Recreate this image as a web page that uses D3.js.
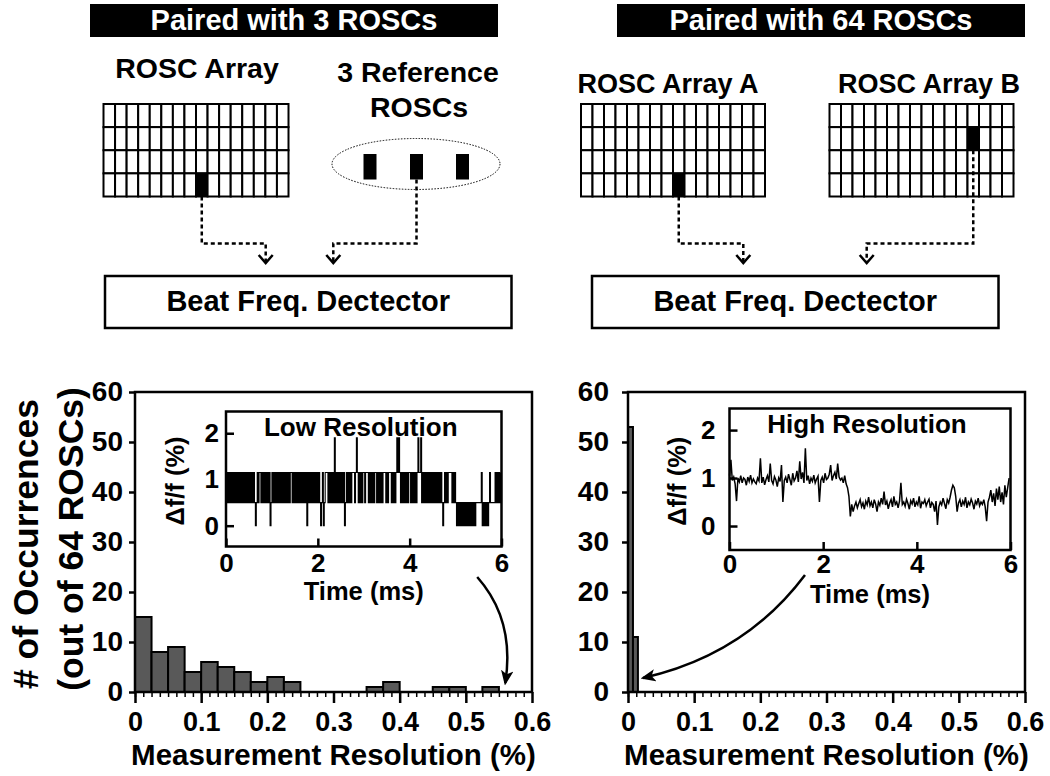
<!DOCTYPE html>
<html lang="en">
<head>
<meta charset="UTF-8">
<title>ROSC measurement resolution</title>
<script src="https://d3js.org/d3.v7.min.js"></script>
<style>
  body { margin: 0; background: #fff; }
  svg { display: block; font-family: "Liberation Sans", Arial, Helvetica, sans-serif; font-weight: bold; }
  .frame { fill: none; stroke: #000; stroke-width: 2.5px; }
  .bar { fill: #595959; stroke: #000; stroke-width: 2px; }
  .wire { fill: none; stroke: #000; stroke-width: 2.5px; stroke-dasharray: 4 3; }
  .chev { fill: none; stroke: #000; stroke-width: 2.5px; }
  .arrow { fill: none; stroke: #000; stroke-width: 2.5px; }
</style>
</head>
<body>
<svg width="1050" height="776"></svg>
<script>
// ---------- data ----------
const yTicks = [0, 10, 20, 30, 40, 50, 60];
const xTicks = [0, 0.1, 0.2, 0.3, 0.4, 0.5, 0.6];
const xTickLabels = ["0", "0.1", "0.2", "0.3", "0.4", "0.5", "0.6"];

// histogram, paired with 3 ROSCs
const leftBinWidth = 0.025;
const leftBinX0 = [0, 0.025, 0.05, 0.075, 0.1, 0.125, 0.15, 0.175, 0.2, 0.225, 0.35, 0.375, 0.45, 0.475, 0.525];
const leftCounts = [15, 8, 9, 4, 6, 5, 4, 2, 3, 2, 1, 2, 1, 1, 1];

// histogram, paired with 64 ROSCs
const rightBinWidth = 0.0075;
const rightBinX0 = [0, 0.0075];
const rightCounts = [53, 11];

const insetTimeTicks = [0, 2, 4, 6];
const insetYTicks = [0, 1, 2];

// low resolution trace: quantised levels, one code per 0.02 ms sample (one string per ms)
const lowResStep = 0.02;
const lowResLevels = [0, 0.5, 1.15, 1.9];
const lowResCodes = [
  "21212121212121212121212121212121012122121212121201",
  "21212121212121212121221212121212121212021212121212",
  "12101201222121212131212121212012121212221232121212",
  "21222121212122121212122212122212121232321212121212",
  "21212121232231212121212121212121212101212122221212",
  "10101010101010101010101111112010101012111112121212"
].join("");

// high resolution trace, one value per 0.03 ms
const highResStep = 0.03;
const highRes = [
  1.05, 1.38, 0.95, 1.02, 0.88, 0.52, 1.0, 0.92, 1.05, 0.9,
  1.0, 0.97, 0.85, 1.02, 0.93, 1.06, 0.9, 0.98, 0.92, 0.88,
  1.0, 0.94, 1.41, 0.9, 1.02, 0.86, 0.97, 1.05, 0.92, 1.3,
  0.95, 0.88, 1.03, 0.96, 0.82, 1.0, 0.93, 1.27, 0.5, 0.95,
  1.02, 0.9, 1.08, 0.97, 0.85, 1.1, 0.94, 1.0, 1.15, 0.92,
  1.35, 0.98, 1.12, 0.9, 1.62, 0.95, 1.05, 0.88, 1.0, 0.93,
  1.06, 0.9, 0.98, 1.04, 0.5, 0.95, 1.02, 0.9, 1.1, 0.97,
  1.0, 1.08, 1.27, 0.95, 1.05, 1.12, 0.98, 1.3, 1.02, 0.96,
  1.0, 0.9, 1.05, 0.88, 0.8, 0.62, 0.2, 0.45, 0.3, 0.42,
  0.5, 0.38, 0.47, 0.55, 0.4, 0.48, 0.35, 0.52, 0.44, 0.6,
  0.42, 0.5, 0.38, 0.55, 0.46, 0.3, 0.5, 0.43, 0.58, 0.45,
  0.72, 0.44, 0.52, 0.36, 0.48, 0.55, 0.4, 0.62, 0.45, 0.5,
  0.38, 0.52, 0.9, 0.45, 0.5, 0.41, 0.56, 0.47, 0.35, 0.53,
  0.46, 0.58, 0.4, 0.5, 0.44, 0.62, 0.37, 0.5, 0.47, 0.55,
  0.42, 0.5, 0.56, 0.38, 0.49, 0.45, 0.3, 0.52, 0.02, 0.4,
  0.5, 0.44, 0.58, 0.47, 0.36, 0.55, 0.48, 0.6, 0.75, 0.85,
  0.8, 0.62, 0.3, 0.48, 0.55, 0.4, 0.52, 0.45, 0.6, 0.38,
  0.5, 0.44, 0.56, 0.48, 0.35, 0.52, 0.46, 0.58, 0.42, 0.5,
  0.45, 0.55, 0.4, 0.1, 0.5, 0.6, 0.75, 0.5, 0.68, 0.42,
  0.78, 0.55, 0.82, 0.5, 0.7, 0.45, 0.85, 0.6, 0.8, 1.0
];

// ---------- setup ----------
const svg = d3.select("svg");
svg.append("rect").attr("width", 1050).attr("height", 776).attr("fill", "#fff");

svg.append("defs").append("marker")
  .attr("id", "head")
  .attr("viewBox", "0 0 12 10")
  .attr("refX", 10).attr("refY", 5)
  .attr("markerWidth", 6).attr("markerHeight", 5)
  .attr("orient", "auto")
  .attr("markerUnits", "strokeWidth")
  .append("path").attr("d", "M0,0 L12,5 L0,10 L3,5 Z").attr("fill", "#000");

function label(x, y, text, size, opts = {}) {
  const t = svg.append("text")
    .attr("x", x).attr("y", y)
    .attr("font-size", size)
    .attr("text-anchor", opts.anchor || "middle")
    .attr("fill", opts.fill || "#000")
    .text(text);
  if (opts.rotate) t.attr("x", 0).attr("y", 0).attr("transform", `translate(${x},${y}) rotate(-90)`);
  return t;
}

// ---------- top schematic ----------
function banner(x0, x1, text) {
  svg.append("rect").attr("x", x0).attr("y", 4).attr("width", x1 - x0).attr("height", 33).attr("fill", "#000");
  label((x0 + x1) / 2, 30, text, 29, { fill: "#fff" });
}

function roscGrid(x0, y0, w, h, pick) {
  const cols = 16, rows = 4, cw = w / cols, ch = h / rows;
  svg.append("g").selectAll("rect")
    .data(d3.range(cols * rows))
    .join("rect")
      .attr("x", i => x0 + (i % cols) * cw)
      .attr("y", i => y0 + Math.floor(i / cols) * ch)
      .attr("width", cw).attr("height", ch)
      .attr("fill", i => (i % cols === pick[0] && Math.floor(i / cols) === pick[1]) ? "#000" : "#fff")
      .attr("stroke", "#000").attr("stroke-width", 2);
  return { cx: c => x0 + (c + 0.5) * cw, by: r => y0 + (r + 1) * ch };
}

function wire(pts) {
  svg.append("path").attr("class", "wire").attr("d", d3.line()(pts));
  const [ex, ey] = pts[pts.length - 1];
  svg.append("path").attr("class", "chev")
    .attr("d", `M${ex - 7},${ey - 6} L${ex},${ey + 2} L${ex + 7},${ey - 6}`);
}

function detector(x0, x1) {
  svg.append("rect").attr("x", x0).attr("y", 276).attr("width", x1 - x0).attr("height", 52)
    .attr("fill", "none").attr("stroke", "#000").attr("stroke-width", 2.5);
  label((x0 + x1) / 2, 311, "Beat Freq. Dectector", 29);
}

const busY = 243.5, endY = 261;

// left: paired with 3 ROSCs
banner(90, 498, "Paired with 3 ROSCs");
label(197, 78, "ROSC Array", 28.5);
label(418, 82, "3 Reference", 28.5);
label(419, 117, "ROSCs", 28.5);
const gL = roscGrid(103.5, 104, 185, 92.5, [8, 3]);
svg.append("ellipse").attr("cx", 416).attr("cy", 164).attr("rx", 84).attr("ry", 25.5)
  .attr("fill", "none").attr("stroke", "#000").attr("stroke-width", 1).attr("stroke-dasharray", "1.5 1.5");
const refX = [370, 416.5, 462.5];
svg.append("g").selectAll("rect").data(refX).join("rect")
  .attr("x", d => d - 6.5).attr("y", 154).attr("width", 13).attr("height", 25.5).attr("fill", "#000");
wire([[gL.cx(8), gL.by(3)], [gL.cx(8), busY], [265.7, busY], [265.7, endY]]);
wire([[refX[1], 179.5], [refX[1], busY], [333.3, busY], [333.3, endY]]);
detector(105, 511.5);

// right: paired with 64 ROSCs
banner(617, 1025, "Paired with 64 ROSCs");
label(668, 93, "ROSC Array A", 27);
label(929, 93, "ROSC Array B", 27);
const gA = roscGrid(581, 104, 184, 92.5, [8, 3]);
const gB = roscGrid(829.5, 104, 184, 92.5, [12, 1]);
wire([[gA.cx(8), gA.by(3)], [gA.cx(8), busY], [743.3, busY], [743.3, endY]]);
wire([[gB.cx(12), gB.by(1)], [gB.cx(12), busY], [866.7, busY], [866.7, endY]]);
detector(592, 998.5);

// ---------- histograms ----------
const yBase = 692, yTop = 392;

function styleAxis(a, size) {
  a.attr("font-family", null).attr("font-size", size).attr("font-weight", "bold");
  a.select(".domain").remove();
  a.selectAll(".tick line").attr("stroke-width", 2.5);
  a.selectAll(".tick text").attr("fill", "#000");
}

function histogram(x0px, x1px, binX0, counts, binWidth, yPad) {
  const x = d3.scaleLinear().domain([0, 0.6]).range([x0px, x1px]);
  const y = d3.scaleLinear().domain([0, 60]).range([yBase, yTop]);
  const g = svg.append("g");

  g.append("g").selectAll("rect").data(binX0).join("rect")
    .attr("class", "bar")
    .attr("x", d => x(d))
    .attr("width", d => x(d + binWidth) - x(d))
    .attr("y", (d, i) => y(counts[i]))
    .attr("height", (d, i) => y(0) - y(counts[i]));

  g.append("g").attr("transform", `translate(0,${yBase})`)
    .call(d3.axisBottom(x).tickValues(d3.range(0, 48).map(i => i * 0.0125)).tickSize(5).tickFormat(""))
    .call(a => { a.select(".domain").remove(); a.selectAll(".tick line").attr("stroke-width", 1.5); });

  g.append("g").attr("transform", `translate(0,${yBase})`)
    .call(d3.axisBottom(x).tickValues(xTicks).tickSize(11).tickPadding(9).tickFormat((d, i) => xTickLabels[i]))
    .call(a => styleAxis(a, 27));

  g.append("g").attr("transform", `translate(${x0px},0)`)
    .call(d3.axisLeft(y).tickValues(yTicks).tickSize(6).tickPadding(yPad))
    .call(a => styleAxis(a, 28));

  g.append("rect").attr("class", "frame")
    .attr("x", x0px).attr("y", yTop).attr("width", x1px - x0px).attr("height", yBase - yTop);

  label((x0px + x1px) / 2, 765, "Measurement Resolution (%)", 29.5);
  return { x, y };
}

const hL = histogram(135, 532, leftBinX0, leftCounts, leftBinWidth, 6);
const hR = histogram(628, 1025, rightBinX0, rightCounts, rightBinWidth, 13);

label(38, 544, "# of Occurrences", 35.5, { rotate: true });
label(83, 539, "(out of 64 ROSCs)", 35.5, { rotate: true });

// ---------- insets ----------
function inset(box, yDomain, title, xPad, yPad, yLabelX) {
  const x = d3.scaleLinear().domain([0, 6]).range([box.x0, box.x1]);
  const y = d3.scaleLinear().domain(yDomain).range([box.y1, box.y0]);
  const g = svg.append("g");
  g.append("rect").attr("x", box.x0).attr("y", box.y0)
    .attr("width", box.x1 - box.x0).attr("height", box.y1 - box.y0).attr("fill", "#fff");

  g.append("g").attr("transform", `translate(0,${box.y1})`)
    .call(d3.axisBottom(x).tickValues(insetTimeTicks).tickSize(-8).tickPadding(xPad).tickFormat(d3.format("d")))
    .call(a => styleAxis(a, 26));
  g.append("g").attr("transform", `translate(${box.x0},0)`)
    .call(d3.axisLeft(y).tickValues(insetYTicks).tickSize(-8).tickPadding(yPad).tickFormat(d3.format("d")))
    .call(a => styleAxis(a, 26));

  label((box.x0 + box.x1) / 2, box.y1 + 53, "Time (ms)", 25.5);
  label(yLabelX, (box.y0 + box.y1) / 2 + 2, "Δf/f (%)", 25.5, { rotate: true });
  label((box.x0 + box.x1) / 2 - 3, box.y0 + 24, title, 26);
  return { g, x, y };
}

const iL = inset({ x0: 226, x1: 501.5, y0: 411.5, y1: 546.5 }, [-0.45, 2.47], "Low Resolution", 7, 7, 184);
iL.g.append("path")
  .attr("fill", "none").attr("stroke", "#000").attr("stroke-width", 1.1)
  .attr("d", d3.line().curve(d3.curveStepAfter)
    .x((c, i) => iL.x(i * lowResStep))
    .y(c => iL.y(lowResLevels[+c])) (lowResCodes.split("")));
iL.g.append("rect").attr("class", "frame").attr("stroke-width", 2.2)
  .attr("x", 226).attr("y", 411.5).attr("width", 275.5).attr("height", 135);

const iR = inset({ x0: 729.5, x1: 1010.5, y0: 408.5, y1: 550 }, [-0.5, 2.45], "High Resolution", 5, 14, 686);
iR.g.append("path")
  .attr("fill", "none").attr("stroke", "#000").attr("stroke-width", 1.5)
  .attr("d", d3.line()
    .x((v, i) => iR.x(i * highResStep))
    .y(v => iR.y(v)) (highRes));
iR.g.append("rect").attr("class", "frame").attr("stroke-width", 2.2)
  .attr("x", 729.5).attr("y", 408.5).attr("width", 281).attr("height", 141.5);

// ---------- callout arrows (in histogram data units) ----------
function callout(h, from, ctrl, to) {
  const p = d3.path();
  p.moveTo(h.x(from[0]), h.y(from[1]));
  p.quadraticCurveTo(h.x(ctrl[0]), h.y(ctrl[1]), h.x(to[0]), h.y(to[1]));
  svg.append("path").attr("class", "arrow").attr("d", p.toString()).attr("marker-end", "url(#head)");
}
callout(hL, [0.5172, 23], [0.5747, 14.4], [0.5596, 1.8]);
callout(hR, [0.2675, 23.4], [0.1768, 7.4], [0.0227, 2.8]);
</script>
</body>
</html>
